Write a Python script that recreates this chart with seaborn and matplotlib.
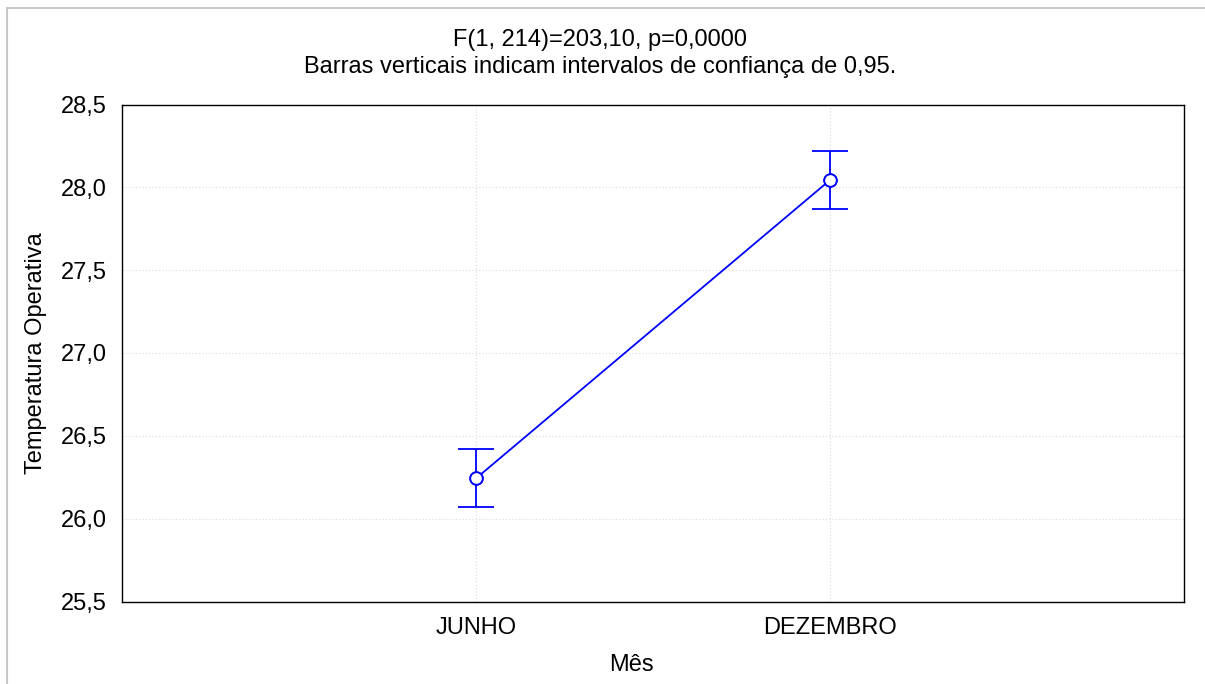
import matplotlib
matplotlib.use("Agg")
import matplotlib.pyplot as plt
import seaborn as sns
import pandas as pd
from matplotlib.lines import Line2D

# data
meses = ["JUNHO", "DEZEMBRO"]
medias = [26.243, 28.044]
ic_meio = [0.175, 0.175]   # half width of 0.95 CI
y_ticks = [25.5, 26.0, 26.5, 27.0, 27.5, 28.0, 28.5]

df = pd.DataFrame({"Mês": meses, "Temperatura Operativa": medias})

sns.set_style("white")
plt.rcParams['font.family'] = ['Liberation Sans', 'DejaVu Sans']
plt.rcParams['text.color'] = 'black'

fs = 17
W, H = 1205, 684
fig = plt.figure(figsize=(W / 100, H / 100), dpi=100)
ax = fig.add_axes([122 / W, 1 - 601.5 / H, (1184 - 122) / W, (601.5 - 104.5) / H])

cor = "#0000ff"
lw = 1.3
sns.pointplot(data=df, x="Mês", y="Temperatura Operativa", errorbar=None,
              color=cor, markers="o", linewidth=lw, markersize=9,
              markerfacecolor="white", markeredgecolor=cor, markeredgewidth=lw,
              ax=ax, zorder=3)
ax.errorbar(range(len(meses)), medias, yerr=ic_meio, fmt="none", ecolor=cor,
            elinewidth=lw, capsize=13, capthick=lw, zorder=2)
# markers on top of error bars
ax.plot(range(len(meses)), medias, linestyle="none", marker="o", markersize=9,
        markerfacecolor="white", markeredgecolor=cor, markeredgewidth=lw, zorder=4)

ax.set_xlim(-1, 2)
ax.set_ylim(25.5, 28.5)
ax.set_yticks(y_ticks)
ax.set_yticklabels([f"{v:.1f}".replace(".", ",") for v in y_ticks])
ax.grid(True, color="#dadada", linestyle=(0, (1, 2)), linewidth=0.8)
for s in ax.spines.values():
    s.set_color("black")
    s.set_linewidth(1.0)
ax.tick_params(axis="both", direction="in", length=2, labelsize=fs, colors="black")
ax.tick_params(axis="x", pad=11)
ax.tick_params(axis="y", pad=11)
ax.set_xlabel("")
ax.set_ylabel("Temperatura Operativa", fontsize=fs, labelpad=10, color="black")

fig.text(600 / W, 1 - 40 / H, "F(1, 214)=203,10, p=0,0000", ha="center", va="center", fontsize=fs)
fig.text(600 / W, 1 - 67 / H, "Barras verticais indicam intervalos de confiança de 0,95.",
         ha="center", va="center", fontsize=fs)
fig.text(631 / W, 1 - 665 / H, "Mês", ha="center", va="center", fontsize=fs)

# light frame lines at left and top of the image
fig.add_artist(Line2D([6.5 / W, 6.5 / W], [0, 1 - 8 / H], color="#c8c8c8", lw=1.5))
fig.add_artist(Line2D([6.5 / W, 1], [1 - 8 / H, 1 - 8 / H], color="#c8c8c8", lw=1.5))

fig.savefig("out.png", dpi=100)
